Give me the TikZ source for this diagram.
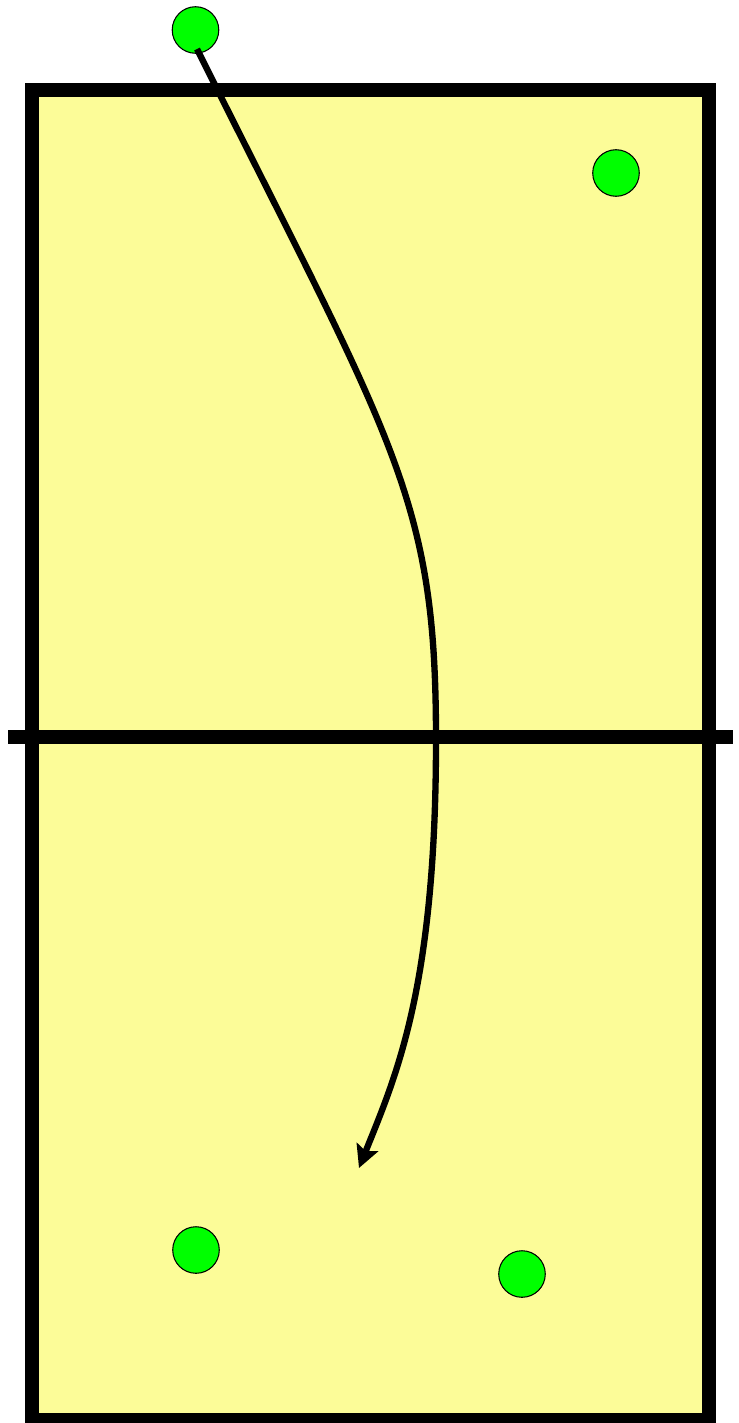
\documentclass[tikz,border=0pt]{standalone}
\usetikzlibrary{arrows.meta}
\definecolor{court}{RGB}{252,252,152}
\definecolor{player}{RGB}{0,255,0}
\tikzset{
  courtline/.style={line width=8.5pt, draw=black},
  playerdot/.style={circle, draw=black, line width=0.6pt, fill=player, minimum size=26.5pt, inner sep=0pt},
  moveline/.style={line width=3.6pt, -{Stealth[length=12.8pt,width=13pt,inset=2.5pt]}}
}
\begin{document}
\begin{tikzpicture}[x=0.02cm,y=-0.02cm]
\useasboundingbox (0,0) rectangle (739,1423);
\draw[courtline, fill=court] (32,90) rectangle (709,1420);
\coordinate (netL) at (8,737);
\coordinate (netR) at (733,737);
\draw[courtline, line cap=butt] (netL) -- (netR);
\node[playerdot] (p1) at (195.5,30) {};
\node[playerdot] (p2) at (616,173) {};
\node[playerdot] (p3) at (196,1250) {};
\node[playerdot] (p4) at (522,1274) {};
\coordinate (start) at (197,49);
\coordinate (tip) at (359,1168);
\draw[moveline] (start) .. controls (397,449) and (436,500) .. (436,740)
  .. controls (436,990) and (395,1078) .. (tip);
\end{tikzpicture}
\end{document}
